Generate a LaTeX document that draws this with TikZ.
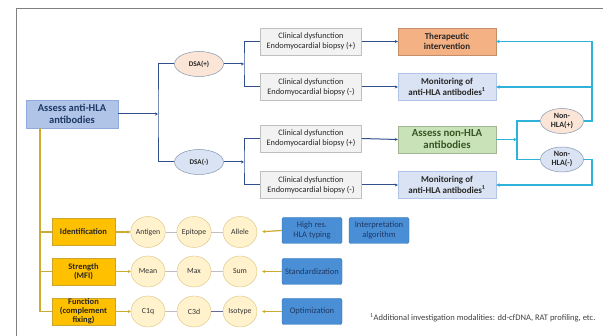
\documentclass[tikz,border=0pt]{standalone}
\usepackage{fontspec}
\setmainfont{Carlito}
\usetikzlibrary{arrows.meta,shapes.geometric}
\definecolor{navy}{HTML}{2F4F8F}
\definecolor{txtblue}{HTML}{1F3864}
\definecolor{mainfill}{HTML}{AFC4E6}
\definecolor{mainline}{HTML}{8FAADC}
\definecolor{clinfill}{HTML}{F2F2F2}
\definecolor{clinline}{HTML}{BFBFBF}
\definecolor{orfill}{HTML}{F4B183}
\definecolor{monfill}{HTML}{DAE3F3}
\definecolor{grfill}{HTML}{C9E2B8}
\definecolor{grtxt}{HTML}{375623}
\definecolor{peach}{HTML}{FBE5D6}
\definecolor{ellline}{HTML}{8497B0}
\definecolor{cyanl}{HTML}{2FB2DA}
\definecolor{ylw}{HTML}{FFC000}
\definecolor{ylwline}{HTML}{C9A530}
\definecolor{ylwconn}{HTML}{CDAA30}
\definecolor{cream}{HTML}{FFF2CC}
\definecolor{creamline}{HTML}{D9C27A}
\definecolor{bluebox}{HTML}{4A8FD6}
\definecolor{blueline}{HTML}{2E75B6}
\definecolor{frame}{HTML}{808080}
\tikzset{
  mainbox/.style={draw=mainline, fill=mainfill, text=txtblue, minimum width=92pt, minimum height=28pt, align=center, inner sep=1pt, font=\fontsize{10.5}{12}\selectfont\bfseries},
  dsa/.style={ellipse, draw=ellline, line width=0.5pt, minimum width=49pt, minimum height=25pt, inner sep=0pt, align=center, text=black!85, font=\fontsize{7.2}{8}\selectfont\bfseries},
  nonhla/.style={ellipse, draw=ellline, line width=0.5pt, minimum width=43pt, minimum height=25pt, inner sep=0pt, align=center, text=black!85, font=\fontsize{8}{9}\selectfont\bfseries},
  clin/.style={draw=clinline, fill=clinfill, minimum width=101pt, minimum height=27pt, inner sep=1pt, align=center, text=black!85, font=\fontsize{8.3}{10}\selectfont},
  rbox/.style={draw=#1, minimum width=98pt, minimum height=27pt, inner sep=1pt, align=center, text=black!85, font=\fontsize{9}{10.5}\selectfont\bfseries},
  ybox/.style={draw=ylwline, fill=ylw, minimum width=63pt, minimum height=27pt, inner sep=1pt, align=center, text=black!85, font=\fontsize{8.5}{8.8}\selectfont\bfseries},
  circ/.style={ellipse, draw=creamline, fill=cream, minimum width=34pt, minimum height=31pt, inner sep=0pt, align=center, text=black!80, font=\fontsize{7.8}{9}\selectfont},
  bbox/.style={draw=blueline, fill=bluebox, rounded corners=2pt, minimum width=60pt, minimum height=26pt, inner sep=1pt, align=center, text=txtblue, font=\fontsize{8.5}{9.5}\selectfont},
  navyc/.style={draw=navy, line width=1pt},
  navya/.style={navyc, -{Stealth[length=3pt,width=3pt]}},
  cyanc/.style={draw=cyanl, line width=1.5pt},
  cyana/.style={cyanc, -{Stealth[length=3.5pt,width=3.5pt]}},
  ylwc/.style={draw=ylwconn, line width=1.2pt},
  ylwa/.style={ylwc, -{Stealth[length=3pt,width=3pt]}},
  circc/.style={draw=gray!50, line width=0.6pt},
}
\begin{document}
\begin{tikzpicture}[x=1pt,y=-1pt]
\useasboundingbox (0,0) rectangle (603,336);
\fill[white] (0,0) rectangle (603,336);
% frame
\draw[frame, line width=1pt] (16,340) -- (16,9) -- (610,9);

% main
\node[mainbox] (main) at (72,114) {Assess anti-HLA\\antibodies};
\node[dsa, fill=peach] (dsap) at (199,64) {DSA(+)};
\node[dsa, fill=monfill] (dsam) at (199,162) {DSA(-)};

\node[clin] (c1) at (311,41.5) {Clinical dysfunction\\Endomyocardial biopsy (+)};
\node[clin] (c2) at (311,87) {Clinical dysfunction\\Endomyocardial biopsy (-)};
\node[clin] (c3) at (311,138.5) {Clinical dysfunction\\Endomyocardial biopsy (+)};
\node[clin] (c4) at (311,185) {Clinical dysfunction\\Endomyocardial biopsy (-)};

\node[rbox=orfill!80!black, fill=orfill] (ther) at (447,41.5) {Therapeutic\\intervention};
\node[rbox=mainfill, fill=monfill] (mon1) at (447,87) {Monitoring of\\anti-HLA antibodies\textsuperscript{1}};
\node[rbox=grfill!80!black, fill=grfill, text=grtxt, font=\fontsize{10.8}{12}\selectfont\bfseries] (anh) at (447,139.5) {Assess non-HLA\\antibodies};
\node[rbox=mainfill, fill=monfill] (mon2) at (447,185) {Monitoring of\\anti-HLA antibodies\textsuperscript{1}};

\node[nonhla, fill=peach] (nhp) at (562,121) {Non-\\HLA(+)};
\node[nonhla, fill=monfill] (nhm) at (562,159.5) {Non-\\HLA(-)};

% navy connectors
\coordinate (j1) at (158,114);
\coordinate (j2) at (244,64);
\coordinate (j3) at (244,162);
\draw[navya] (main.east) -- (j1);
\draw[navyc] (dsap.west) -| (j1) |- (dsam.west);
\draw[navya] (dsap.east) -- (j2);
\draw[navyc] (c1.west) -| (j2) |- (c2.west);
\draw[navya] (dsam.east) -- (j3);
\draw[navyc] (c3.west) -| (j3) |- (c4.west);
\draw[navya] (c1.east) -- (ther.west);
\draw[navya] (c2.east) -- (mon1.west);
\draw[navya] (c3.east) -- (anh.west);
\draw[navya] (c4.east) -- (mon2.west);

% cyan connectors
\coordinate (k1) at (517,139.5);
\coordinate (k2) at (592,121);
\coordinate (k3) at (592,87);
\coordinate (k4) at (592,159.5);
\draw[cyana] (anh.east) -- (k1);
\draw[cyanc] (nhp.west) -| (k1) |- (nhm.west);
\draw[cyana] (nhp.east) -- (k2) |- (ther.east);
\draw[cyana] (k3) -- (mon1.east);
\draw[cyana] (nhm.east) -- (k4) |- (mon2.east);

% yellow section
\node[ybox] (ident) at (83.5,232) {Identification};
\node[ybox] (stren) at (83.5,271.5) {Strength\\(MFI)};
\node[ybox] (func) at (83.5,311.5) {Function\\(complement\\fixing)};

\node[circ] (ant) at (148,232) {Antigen};
\node[circ] (epi) at (194,232) {Epitope};
\node[circ] (all) at (240,232) {Allele};
\node[circ] (mean) at (148,271.5) {Mean};
\node[circ] (max) at (194,271.5) {Max};
\node[circ] (sum) at (240,271.5) {Sum};
\node[circ] (c1q) at (148,311.5) {C1q};
\node[circ] (c3d) at (194,311.5) {C3d};
\node[circ] (iso) at (240,311.5) {Isotype};

\node[bbox] (hires) at (312,230.5) {High res.\\HLA typing};
\node[bbox] (interp) at (379,230.5) {Interpretation\\algorithm};
\node[bbox] (stand) at (312,271.5) {Standardization};
\node[bbox] (optim) at (312,311.5) {Optimization};

\coordinate (y0) at (40,128);
\coordinate (y1) at (40,232);
\coordinate (y2) at (40,271.5);
\draw[ylwc] (y0) |- (func.west);
\draw[ylwc] (y1) -- (ident.west);
\draw[ylwc] (y2) -- (stren.west);

\draw[ylwa] (ident.east) -- (ant.west);
\draw[ylwa] (stren.east) -- (mean.west);
\draw[ylwa] (func.east) -- (c1q.west);
\draw[ylwa, shorten >=5pt] (hires.west) -- (all.east);
\draw[ylwa, shorten >=5pt] (stand.west) -- (sum.east);
\draw[ylwa, shorten >=5pt] (optim.west) -- (iso.east);

\draw[circc] (ant) -- (epi);
\draw[circc] (epi) -- (all);
\draw[circc] (mean) -- (max);
\draw[circc] (max) -- (sum);
\draw[circc] (c1q) -- (c3d);
\draw[draw=gray!80!blue, line width=0.8pt] (c3d) -- (iso);

\node[anchor=west, inner sep=0pt, text=black!75, font=\fontsize{8.5}{10}\selectfont] (note) at (370,318) {\textsuperscript{1}Additional investigation modalities: dd-cfDNA, RAT profiling, etc.};
\end{tikzpicture}
\end{document}
